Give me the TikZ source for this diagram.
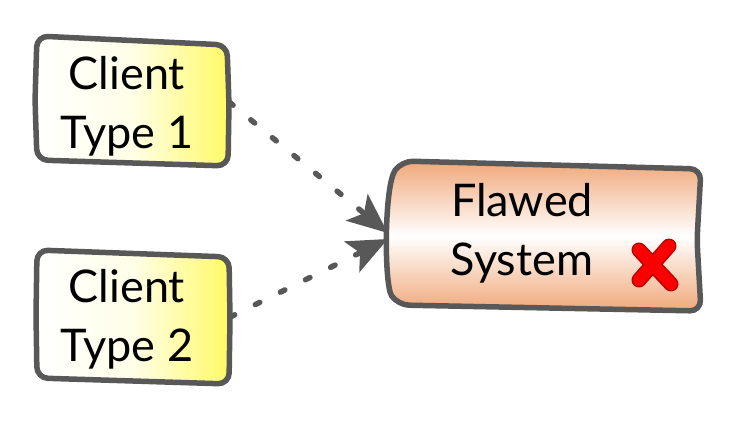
\documentclass[tikz,border=0pt]{standalone}
\usepackage{fontspec}
\setmainfont{Lato}
\usetikzlibrary{arrows.meta}
\definecolor{edgegray}{RGB}{88,88,88}
\definecolor{peach}{RGB}{240,168,122}
\definecolor{cyellow}{RGB}{255,250,100}
\definecolor{xred}{RGB}{250,0,0}
\definecolor{xdark}{RGB}{185,0,0}
\tikzset{
  outline/.style={draw=edgegray, line width=5.5pt, rounded corners=11pt, line join=round},
  clientfill/.style={left color=white, right color=cyellow, middle color=cyellow!15},
  systemfill/.style={top color=peach, bottom color=peach, middle color=white},
  boxnode/.style={draw=none, inner sep=0pt},
  label/.style={align=center, inner sep=0pt, font=\fontsize{45}{59}\selectfont},
  conn/.style={draw=edgegray, line width=5.5pt, line cap=round, dash pattern=on 5pt off 23pt,
    -{Stealth[length=40pt, width=34pt, inset=9pt, line cap=butt]}},
  xstroke/.style={line cap=round, line join=round},
}
\begin{document}
\begin{tikzpicture}[x=1pt, y=-1pt]
\useasboundingbox (0,0) rectangle (736,422);

% box shapes
\shadedraw[outline, clientfill]
  (37,36) -- (227,45) -- (229,104) -- (228,166) -- (37,160) -- (35,100) -- cycle;
\shadedraw[outline, clientfill]
  (37,250) -- (229,257) -- (230,318) -- (229,384) -- (37,378) -- (36,315) -- cycle;
\shadedraw[outline, systemfill]
  (398,305) .. controls (384,285) and (384,185) .. (402,161)
  -- (701,169) -- (697,240) -- (701,311) -- cycle;

% nodes (boxes)
\node[boxnode, minimum width=194pt, minimum height=130pt] (c1) at (132,102) {};
\node[boxnode, minimum width=194pt, minimum height=130pt] (c2) at (133,317) {};
\node[boxnode, minimum width=314pt, minimum height=148pt] (fs) at (545,236) {};

% texts
\node[label] (c1t) at (127,106) {Client\\Type 1};
\node[label] (c2t) at (127,319) {Client\\Type 2};
\node[label] (fst) at (522,233) {Flawed\\System};

% connectors
\draw[conn] (c1.east) -- ([yshift=3pt]fs.west);
\draw[conn] (c2.east) -- ([yshift=-3pt]fs.west);

% red cross
\coordinate (xa) at (639,250);
\coordinate (xb) at (671,284);
\coordinate (xc) at (669,246);
\coordinate (xd) at (639,280);
\draw[xstroke, xdark, line width=15pt] (xa) -- (xb) (xc) -- (xd);
\draw[xstroke, xred, line width=12pt] (xa) -- (xb) (xc) -- (xd);
\end{tikzpicture}
\end{document}
